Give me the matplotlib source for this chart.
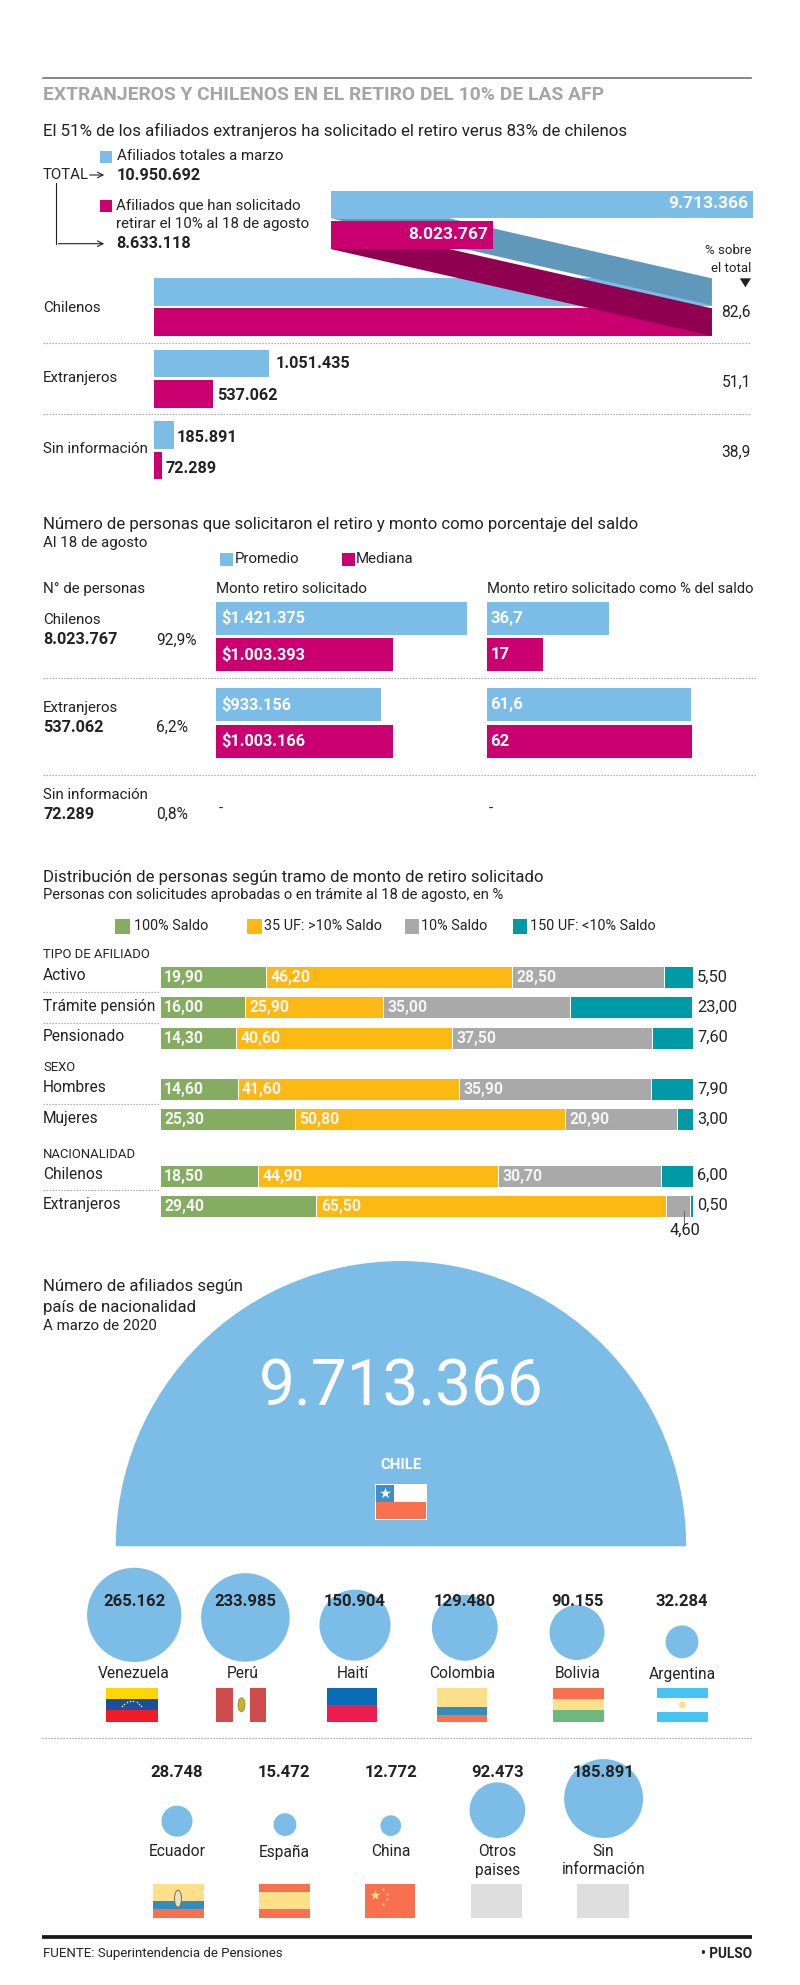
import math
import matplotlib
matplotlib.use("Agg")
import matplotlib.pyplot as plt
from matplotlib.patches import Rectangle, Polygon, Circle, Wedge, Ellipse

# ---------- data ----------
groups = ["Chilenos", "Extranjeros", "Sin información"]
afiliados = [9713366, 1051435, 185891]
solicitado = [8023767, 537062, 72289]
afiliados_lab = ["9.713.366", "1.051.435", "185.891"]
solicitado_lab = ["8.023.767", "537.062", "72.289"]
pct_total = ["82,6", "51,1", "38,9"]

monto_groups = ["Chilenos", "Extranjeros"]
monto_prom = [1421375, 933156]
monto_med = [1003393, 1003166]
monto_prom_lab = ["$1.421.375", "$933.156"]
monto_med_lab = ["$1.003.393", "$1.003.166"]
pct_prom = [36.7, 61.6]
pct_med = [17, 62]
pct_prom_lab = ["36,7", "61,6"]
pct_med_lab = ["17", "62"]
personas_lab = ["8.023.767", "537.062", "72.289"]
personas_pct = ["92,9%", "6,2%", "0,8%"]

dist_rows = ["Activo", "Trámite pensión", "Pensionado", "Hombres", "Mujeres", "Chilenos", "Extranjeros"]
saldo100 = [19.9, 16.0, 14.3, 14.6, 25.3, 18.5, 29.4]
uf35 = [46.2, 25.9, 40.6, 41.6, 50.8, 44.9, 65.5]
saldo10 = [28.5, 35.0, 37.5, 35.9, 20.9, 30.7, 4.6]
uf150 = [5.5, 23.0, 7.6, 7.9, 3.0, 6.0, 0.5]
dist_series = ["100% Saldo", "35 UF: >10% Saldo", "10% Saldo", "150 UF: <10% Saldo"]

row1_names = ["Venezuela", "Perú", "Haití", "Colombia", "Bolivia", "Argentina"]
row1_vals = [265162, 233985, 150904, 129480, 90155, 32284]
row2_names = ["Ecuador", "España", "China", "Otros\npaises", "Sin\ninformación"]
row2_vals = [28748, 15472, 12772, 92473, 185891]
chile_val = 9713366

# ---------- style ----------
BLUE, MAG = "#7bbde6", "#cb0070"
DBLUE, DMAG = "#5f98bb", "#8f0050"
SER = ["#85ad62", "#fdb913", "#a9a9a9", "#009aa6"]
INK = "#222222"
CORAL, SAND = "#f9704f", "#fde08a"
plt.rcParams["font.family"] = ["Roboto", "DejaVu Sans"]
BODY, HEAD, NUM, NAME = 10.8, 12.1, 11.7, 11.2

fig = plt.figure(figsize=(8, 19.85), dpi=100)
ax = fig.add_axes([0, 0, 1, 1])
ax.set_xlim(0, 800)
ax.set_ylim(1985, 0)
ax.axis("off")


def T(x, y, s, size=BODY, bold=False, color=INK, ha="left", va="center", z=10, **kw):
    return ax.text(x, y, s, fontsize=size, fontweight="bold" if bold else "normal",
                   color=color, ha=ha, va=va, zorder=z, **kw)


def dotted(x0, x1, y):
    ax.plot([x0, x1], [y, y], color="#9a9a9a", lw=0.9, ls=(0, (1, 1.4)), zorder=2)


def rect(x, y, w, h, c, z=3, **kw):
    ax.add_patch(Rectangle((x, y), w, h, facecolor=c, edgecolor="none", zorder=z, **kw))


# ---------- header ----------
ax.plot([43, 751], [78.3, 78.3], color="#666666", lw=1.1)
T(43, 95, "EXTRANJEROS Y CHILENOS EN EL RETIRO DEL 10% DE LAS AFP", 13.9, True, "#a5a5a5")
T(43, 130.7, "El 51% de los afiliados extranjeros ha solicitado el retiro verus 83% de chilenos", 12.2)

# legend block
rect(99.5, 150.7, 12.5, 12, BLUE)
T(117, 156.3, "Afiliados totales a marzo")
T(43, 175, "TOTAL")
ax.annotate("", xy=(107, 175), xytext=(87, 175), arrowprops=dict(arrowstyle="->", lw=0.8, color=INK))
T(117, 175, "10.950.692", NUM, True)
rect(99.5, 200, 12.5, 12, MAG)
T(116, 205.7, "Afiliados que han solicitado")
T(116, 223.7, "retirar el 10% al 18 de agosto")
T(116, 243.7, "8.633.118", NUM, True)
ax.plot([56, 56], [183.3, 243.7], color=INK, lw=0.8)
ax.annotate("", xy=(107, 243.7), xytext=(55.6, 243.7), arrowprops=dict(arrowstyle="->", lw=0.8, color=INK))

# first chart
X0 = 153.6
SC = 110e-6
WRAP_END = 711.7
WRAP_X0 = 330.6
WRAP_BASE = 6.97e6
WRAP_SC = 154e-6
ys_blue = [292, 363.5, 435.2]
ys_mag = [322.2, 394, 465.7]
BH = 27.4
for i in range(3):
    wb = WRAP_END - X0 if i == 0 else afiliados[i] * SC
    wm = WRAP_END - X0 if i == 0 else solicitado[i] * SC
    ax.barh(ys_blue[i], wb, BH, left=X0, color=BLUE, zorder=3)
    ax.barh(ys_mag[i], wm, BH, left=X0, color=MAG, zorder=3)
ax.add_patch(Polygon([(449, 218.3), (WRAP_END, 278.3), (WRAP_END, 305.3), (WRAP_X0, 218.3)], fc=DBLUE, ec="none", zorder=4))
ax.add_patch(Polygon([(449, 249), (WRAP_END, 308.3), (WRAP_END, 336), (WRAP_X0, 249)], fc=DMAG, ec="none", zorder=5))
top_b = (afiliados[0] - WRAP_BASE) * WRAP_SC
top_m = (solicitado[0] - WRAP_BASE) * WRAP_SC
ax.barh(204.6, top_b, 27.4, left=WRAP_X0, color=BLUE, zorder=6)
ax.barh(235.2, top_m, 27.7, left=WRAP_X0, color=MAG, zorder=6)
T(WRAP_X0 + top_b - 5, 204, afiliados_lab[0], 12.5, True, "white", ha="right", z=11)
T(WRAP_X0 + top_m - 5, 234.5, solicitado_lab[0], 12.5, True, "white", ha="right", z=11)
T(751, 250, "% sobre", 9.5, ha="right")
T(751, 268.3, "el total", 9.5, ha="right")
ax.add_patch(Polygon([(739.8, 278.3), (751, 278.3), (745.4, 287.3)], fc=INK, ec="none"))
for name, y, p, py in zip(groups, [308.3, 378.3, 449], pct_total, [312.7, 382.7, 452.7]):
    T(43, y, name)
    T(751, py, p, NAME, ha="right")
dotted(43, 751, 343)
dotted(43, 751, 414.3)
T(275.5, 363, afiliados_lab[1], NUM, True)
T(217, 395, solicitado_lab[1], NUM, True)
T(177, 437, afiliados_lab[2], NUM, True)
T(165, 468.3, solicitado_lab[2], NUM, True)

# ---------- section 2 ----------
T(43, 525, "Número de personas que solicitaron el retiro y monto como porcentaje del saldo", HEAD)
T(43, 543.3, "Al 18 de agosto")
rect(220, 553.3, 12.6, 12.4, BLUE)
T(235, 559.3, "Promedio")
rect(342, 553.3, 12.6, 12.4, MAG)
T(356, 559.3, "Mediana")
T(43, 588.7, "N° de personas")
T(216.3, 588.7, "Monto retiro solicitado")
T(487.2, 588.7, "Monto retiro solicitado como % del saldo", 10.6)

MX0, PX0 = 216.3, 487.2
MSC, PSC = 176.6e-6, 3.31
yb = [618.2, 704.5]
ym = [654.8, 741.2]
for i in range(2):
    ax.barh(yb[i], monto_prom[i] * MSC, 33, left=MX0, color=BLUE, zorder=3)
    ax.barh(ym[i], monto_med[i] * MSC, 33, left=MX0, color=MAG, zorder=3)
    ax.barh(yb[i], pct_prom[i] * PSC, 33, left=PX0, color=BLUE, zorder=3)
    ax.barh(ym[i], pct_med[i] * PSC, 33, left=PX0, color=MAG, zorder=3)
    T(221, yb[i], monto_prom_lab[i], NUM, True, "white")
    T(221, ym[i], monto_med_lab[i], NUM, True, "white")
    T(490.5, yb[i], pct_prom_lab[i], 12, True, "white")
    T(490.5, ym[i], pct_med_lab[i], 12, True, "white")
for name, ny, pl, ply, pc in zip(groups, [620.3, 708.3, 795], personas_lab, [640, 727, 814.3], personas_pct):
    T(43, ny, name)
    T(43, ply, pl, NUM, True)
    T(156, ply, pc, NAME)
T(218.5, 809, "-")
T(489, 809, "-")
dotted(43, 756, 678)
dotted(43, 756, 774.7)

# ---------- section 3 ----------
T(43, 877.3, "Distribución de personas según tramo de monto de retiro solicitado", HEAD)
T(43, 895.3, "Personas con solicitudes aprobadas o en trámite al 18 de agosto, en %", 10.6)
for lx, tx, lab, c in zip([115, 247.4, 404.6, 512.8], [133.7, 264.5, 421, 530], dist_series, SER):
    rect(lx, 919, 14.5, 14.7, c)
    T(tx, 926.3, lab, 10.4)
for lab, y in zip(["TIPO DE AFILIADO", "SEXO", "NACIONALIDAD"], [954, 1067.7, 1154.3]):
    T(43, y, lab, 9.4)
SX0 = 159.7
SSC = 5.33
rows_y = [977, 1007, 1037.7, 1089, 1119.3, 1175.7, 1205.7]
for i, y in enumerate(rows_y):
    left = SX0
    vals = [saldo100[i], uf35[i], saldo10[i], uf150[i]]
    for j, (v, c) in enumerate(zip(vals, SER)):
        w = v * SSC
        ax.barh(y, w, 22, left=left, color=c, edgecolor="white", linewidth=0.7, zorder=3)
        if j < 3 and v > 5:
            T(left + 4.5, y + 0.5, f"{v:.2f}".replace(".", ","), 11.3, True, "#f4f4f4")
        left += w
    T(697, y, f"{vals[3]:.2f}".replace(".", ","), 11.8)
    T(43, y - 1, dist_rows[i], NAME)
for y in [992.3, 1022.7, 1103.7, 1190.3]:
    dotted(43, 159, y)
ax.plot([684, 684], [1210.7, 1223], color="#666666", lw=0.7, zorder=4)
T(684.7, 1230, f"{saldo10[6]:.2f}".replace(".", ","), 11.8, ha="center")

# ---------- section 4 ----------
T(43, 1286, "Número de afiliados según", HEAD)
T(43, 1307.7, "país de nacionalidad", HEAD)
T(43, 1326.3, "A marzo de 2020")
K = 285.2 / math.sqrt(chile_val)
ax.add_patch(Wedge((401, 1546.3), K * math.sqrt(chile_val), 180, 360, fc=BLUE, ec="none", zorder=2))
T(401.5, 1388, "9.713.366", 46, False, "white", ha="center")
T(401, 1465, "CHILE", 10.7, True, "white", ha="center")


def stripes(x, y, w, h, parts):
    yy = y
    for frac, c in parts:
        rect(x, yy, w, h * frac, c, z=5)
        yy += h * frac


# Chile flag
rect(375, 1484.3, 52, 35.4, "white", z=4)
rect(376, 1485.3, 50, 16.7, "white", z=5)
rect(376, 1502, 50, 16.7, CORAL, z=5)
rect(376, 1485.3, 18, 16.7, "#3d8ec9", z=6)
ax.scatter([385], [1493.5], marker="*", s=70, c="white", linewidths=0, zorder=7)

# first row of circles
row1_cx = [134.2, 245.4, 355, 464.8, 577, 682]
row1_bottom = [1662, 1661.7, 1660.7, 1660.7, 1660, 1658.3]
row1_tx = [134, 245.4, 355, 464.8, 577, 682]
row1_nx = [134, 242.3, 352.5, 461.7, 578, 682]
row1_ny = [1673.3] * 5 + [1675]
for n, v, cx, b, tx, nx, ny in zip(row1_names, row1_vals, row1_cx, row1_bottom, row1_tx, row1_nx, row1_ny):
    r = K * math.sqrt(v)
    ax.add_patch(Circle((cx, b - r), r, fc=BLUE, ec="none", zorder=2))
    T(tx, 1601.3, f"{v:,}".replace(",", "."), 12, True, ha="center")
    T(nx, ny, n, NAME, ha="center")
FY, FH = 1688, 33.7
stripes(106, FY, 51.6, FH, [(1/3, "#ffd500"), (1/3, "#1a4f9e"), (1/3, "#f01c24")])
for a in range(8):
    t = math.radians(20 + a * 20)
    ax.scatter([131.5 - 10 * math.cos(t)], [FY + 21 - 8 * math.sin(t)], s=1.2, c="white", linewidths=0, zorder=6)
stripes(216.3, FY, 50, FH, [(1, "#cf4c4c")])
rect(233, FY, 16.7, FH, "white", z=6)
ax.add_patch(Ellipse((241.5, FY + 16.8), 7, 14, fc="#d4ac2e", ec="#7a9a40", lw=0.6, zorder=7))
stripes(326.5, FY, 50.5, FH, [(0.5, "#0a6cb5"), (0.5, "#ee1c4e")])
stripes(436.7, FY, 50.3, FH, [(0.55, SAND), (0.25, "#2f8dc0"), (0.2, CORAL)])
stripes(553, FY, 50.6, FH, [(1/3, CORAL), (1/3, SAND), (1/3, "#6db87f")])
stripes(657, FY, 50.6, FH, [(0.3, "#45c3f4"), (0.4, "white"), (0.3, "#45c3f4")])
ax.add_patch(Circle((682.3, FY + 16.8), 3.5, fc=SAND, ec="none", zorder=7))

dotted(41.5, 752, 1738.2)

# second row
row2_cx = [177, 285, 390.8, 497.4, 603.6]
row2_bottom = [1836.7, 1836, 1836, 1838, 1838]
row2_tx = [177, 284, 390.8, 497.4, 603.6]
for n, v, cx, b, tx in zip(row2_names, row2_vals, row2_cx, row2_bottom, row2_tx):
    r = K * math.sqrt(v)
    ax.add_patch(Circle((cx, b - r), r, fc=BLUE, ec="none", zorder=2))
    T(tx, 1772.7, f"{v:,}".replace(",", "."), 12, True, ha="center")
    for k, part in enumerate(n.split("\n")):
        T(tx, 1852 + k * 18, part, NAME, ha="center")
FY2, FH2 = 1883.7, 34
stripes(152.6, FY2, 51, FH2, [(0.5, SAND), (0.25, "#2f8dc0"), (0.25, CORAL)])
ax.add_patch(Ellipse((178, FY2 + 15), 7, 17, fc="#e6e0c8", ec="#8a6d3b", lw=0.7, zorder=7))
stripes(258.7, FY2, 51, FH2, [(0.25, CORAL), (0.5, SAND), (0.25, CORAL)])
stripes(364.8, FY2, 50.5, FH2, [(1, CORAL)])
ax.scatter([375], [FY2 + 11], marker="*", s=55, c=SAND, linewidths=0, zorder=7)
for dx, dy in [(383, 5), (387, 10), (387, 15), (383, 20)]:
    ax.scatter([dx], [FY2 + dy], marker="*", s=7, c=SAND, linewidths=0, zorder=7)
stripes(471, FY2, 51.4, FH2, [(1, "#dedede")])
stripes(577, FY2, 51.6, FH2, [(1, "#dedede")])

# footer
ax.plot([41.5, 752], [1937, 1937], color="#1a1a1a", lw=2.7, solid_capstyle="butt")
T(43, 1953.7, "FUENTE: Superintendencia de Pensiones", 9.5)
T(752, 1953.7, "• PULSO", 9.8, True, ha="right")

fig.savefig("out.png", dpi=100, facecolor="white")
